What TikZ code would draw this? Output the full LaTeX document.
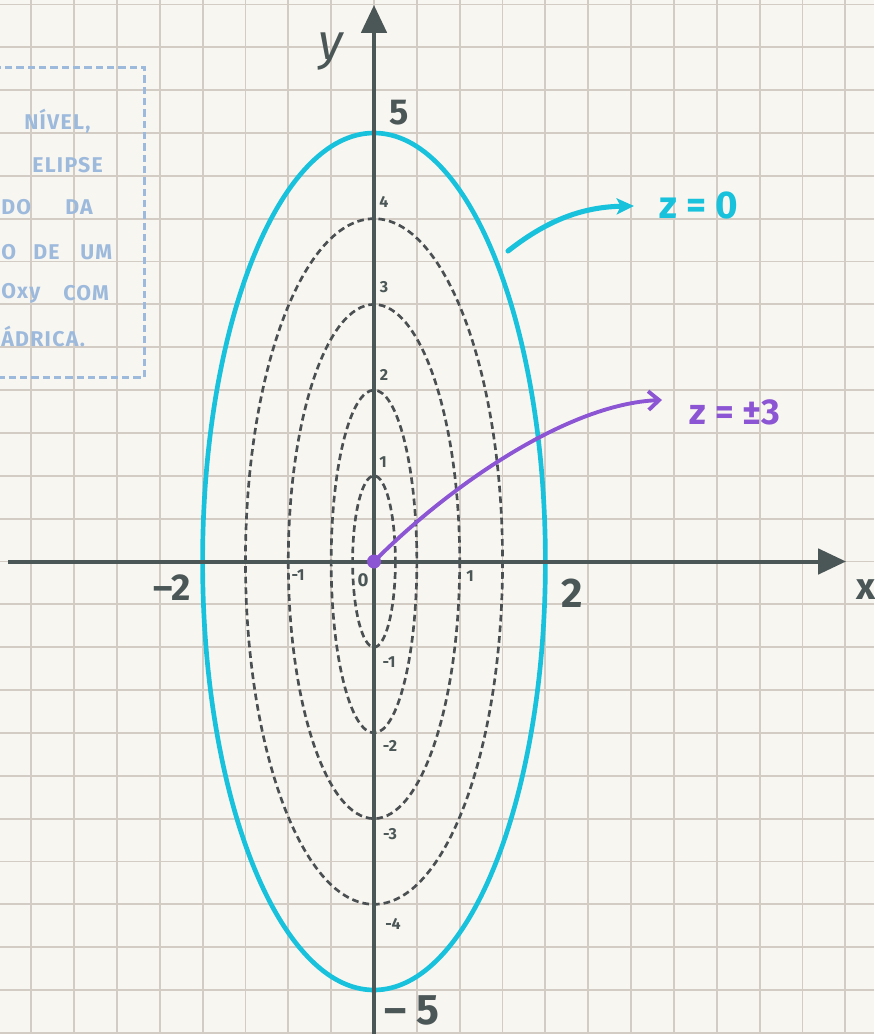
\documentclass[tikz,border=0pt]{standalone}
\usepackage{fontspec}
\setmainfont{Fira Sans}
\usetikzlibrary{arrows.meta}
\definecolor{paper}{HTML}{F8F6F1}
\definecolor{gridc}{HTML}{D2CCC5}
\definecolor{axisc}{HTML}{4B5657}
\definecolor{dashc}{HTML}{4A4F52}
\definecolor{cyanc}{HTML}{18C2DC}
\definecolor{purplec}{HTML}{8B55D3}
\definecolor{boxc}{HTML}{9DBADC}
\begin{document}
\begin{tikzpicture}[x=0.75pt,y=-0.75pt,
  gridline/.style={draw=gridc,line width=1.4pt},
  axisline/.style={draw=axisc,line width=3pt,-{Triangle[length=21pt,width=19pt]}},
  levelset/.style={draw=dashc,line width=2pt,dash pattern=on 5pt off 3pt},
  mainset/.style={draw=cyanc,line width=3.5pt},
  biglab/.style={text=axisc,font=\fontsize{27}{30}\selectfont\bfseries,inner sep=0pt},
  smalllab/.style={text=axisc,font=\fontsize{12}{14}\selectfont\bfseries,inner sep=0pt},
  boxtext/.style={text=boxc,font=\fontsize{16}{18}\selectfont\bfseries\addfontfeatures{LetterSpace=6},inner sep=0pt,anchor=west},
  zlab/.style={font=\fontsize{29}{32}\selectfont\bfseries,inner sep=0pt,anchor=base}]
\useasboundingbox (0,0) rectangle (874,1034);
\clip (0,0) rectangle (874,1034);
\fill[paper] (0,0) rectangle (874,1034);
% grid
\foreach \i in {-8,...,12} \draw[gridline] ({374+42.85*\i},0) -- ({374+42.85*\i},1034);
\foreach \j in {-13,...,11} \draw[gridline] (0,{561.5+42.85*\j}) -- (874,{561.5+42.85*\j});
% note box
\draw[draw=boxc,line width=2pt,dash pattern=on 5.5pt off 3pt] (-10,67.5) rectangle (144.5,377.5);
\node[boxtext] (t1) at (24,121) {NÍVEL,};
\node[boxtext] (t2) at (32,165) {ELIPSE};
\node[boxtext] (t3a) at (1,207) {DO};
\node[boxtext] (t3b) at (65,207) {DA};
\node[boxtext] (t4a) at (1,252) {O};
\node[boxtext] (t4b) at (33,252) {DE};
\node[boxtext] (t4c) at (80,252) {UM};
\node[boxtext] (t5a) at (1,293) {Oxy};
\node[boxtext] (t5b) at (63,293) {COM};
\node[boxtext] (t6) at (1,336) {ÁDRICA.};
% coordinates
\coordinate (O) at (374,561.5);
\coordinate (xs) at (8,561.5);
\coordinate (xe) at (846,561.5);
\coordinate (ys) at (374,1034);
\coordinate (ye) at (374,5);
% level sets
\draw[levelset] (O) ellipse [x radius=128.55, y radius=342.8];
\draw[levelset] (O) ellipse [x radius=85.7, y radius=257.1];
\draw[levelset] (O) ellipse [x radius=42.85, y radius=171.4];
\draw[levelset] (O) ellipse [x radius=21.4, y radius=85.7];
\draw[mainset] (O) ellipse [x radius=171.4, y radius=428.5];
% axes
\draw[axisline] (xs) -- (xe);
\draw[axisline] (ys) -- (ye);
% axis labels
\node[text=axisc,font=\fontsize{38}{40}\selectfont\itshape,inner sep=0pt] (ylab) at (331,52) {y};
\node[text=axisc,font=\fontsize{28}{30}\selectfont\bfseries,inner sep=0pt] (xlab) at (866,590) {x};
\node[biglab] (l5) at (399,113) {5};
\node[biglab,font=\fontsize{32}{34}\selectfont\bfseries] (lm5) at (412,1010) {– 5};
\node[biglab,font=\fontsize{31}{34}\selectfont\bfseries] (l2) at (572,593) {2};
\node[biglab,font=\fontsize{28}{30}\selectfont\bfseries] (lm2) at (172,588) {–2};
\node[smalllab] (y4) at (384,202) {4};
\node[smalllab] (y3) at (384,287) {3};
\node[smalllab] (y2) at (384,375) {2};
\node[smalllab] (y1) at (383,462) {1};
\node[smalllab] (ym1) at (389,662) {-1};
\node[smalllab] (ym2) at (390,746) {-2};
\node[smalllab] (ym3) at (390,834) {-3};
\node[smalllab] (ym4) at (393,924) {-4};
\node[smalllab] (xm1) at (298,575) {-1};
\node[smalllab,font=\fontsize{14}{16}\selectfont\bfseries] (x0) at (363,580) {0};
\node[smalllab] (x1) at (470,576) {1};
% z labels
\node[zlab,text=cyanc] (z0) at (699,219) {z = 0};
\node[zlab,text=purplec,font=\fontsize{27}{30}\selectfont\bfseries] (z3) at (735,424) {z = ±3};
% arrows
\coordinate (cstart) at (508,251);
\coordinate (cend) at (634,206);
\draw[cyanc,line width=3.8pt,line cap=round,-{Stealth[length=13pt,width=12pt,inset=3pt]}]
  (cstart) .. controls (545,222) and (580,207) .. (cend);
\fill[purplec] (O) circle [radius=7];
\coordinate (pend) at (662,400);
\draw[purplec,line width=2.9pt,line cap=round,-{Straight Barb[length=8pt,width=14pt,line width=2.9pt]}]
  (O) .. controls (445,490) and (565,404) .. (pend);
\end{tikzpicture}
\end{document}
